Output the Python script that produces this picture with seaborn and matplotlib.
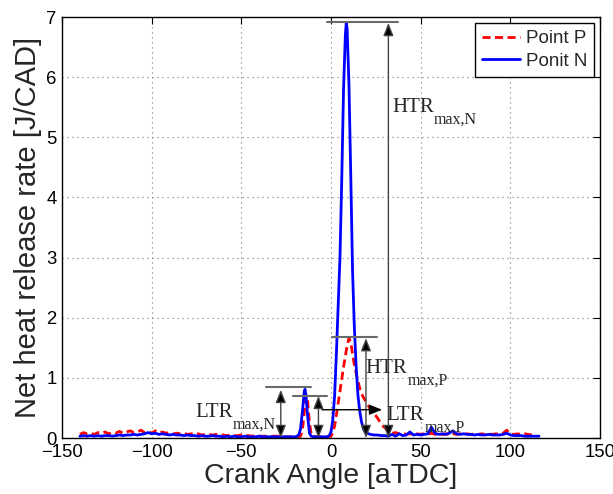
import matplotlib
matplotlib.use("Agg")
import matplotlib.pyplot as plt
import seaborn as sns
import pandas as pd

# ---------------- data ----------------
crank_N = [-140, -138, -136, -134, -132, -130, -128, -126, -124, -122, -120, -118, -116, -114, -112,
           -110, -108, -106, -104, -102, -100, -98, -96, -94, -92, -90, -88, -86, -84, -82, -80,
           -78, -76, -74, -72, -70, -68, -66, -64, -62, -60, -58, -56, -54, -52, -50, -48, -46,
           -44, -42, -40, -38, -36, -34, -32, -30, -28, -26, -24, -22, -20,
           -19, -18, -17, -16, -15, -14.5, -14, -13, -12, -11, -10, -8, -6, -4, -2,
           -1, 0, 1, 2, 3, 4, 5, 6, 7, 8, 8.5, 9, 10, 11, 12, 13, 14, 15, 16, 17, 18, 19, 20,
           22, 24, 26, 28, 30, 32, 34, 36, 38, 40, 42, 44, 46, 48, 50, 52, 54, 56, 58, 60,
           62, 64, 66, 68, 70, 72, 74, 76, 78, 80, 82, 84, 86, 88, 90, 92, 94, 96, 98, 100,
           102, 104, 106, 108, 110, 112, 114, 116]
hrr_N = [0.03, 0.04, 0.03, 0.04, 0.03, 0.04, 0.03, 0.04, 0.04, 0.03, 0.04, 0.05, 0.04, 0.05, 0.05,
         0.06, 0.05, 0.06, 0.07, 0.09, 0.07, 0.08, 0.06, 0.07, 0.06, 0.05, 0.06, 0.05, 0.05, 0.04, 0.05,
         0.04, 0.04, 0.03, 0.04, 0.03, 0.03, 0.04, 0.03, 0.03, 0.02, 0.03, 0.02, 0.03, 0.02, 0.02, 0.03, 0.02,
         0.02, 0.02, 0.03, 0.02, 0.02, 0.02, 0.02, 0.02, 0.02, 0.02, 0.02, 0.02, 0.02,
         0.03, 0.05, 0.15, 0.42, 0.75, 0.81, 0.72, 0.35, 0.08, 0.03, 0.02, 0.02, 0.02, 0.02, 0.02,
         0.04, 0.10, 0.30, 0.70, 1.40, 2.20, 3.00, 4.30, 5.80, 6.70, 6.90, 6.80, 5.90, 4.40, 2.80, 1.85,
         1.20, 0.72, 0.45, 0.27, 0.16, 0.10, 0.08,
         0.06, 0.05, 0.05, 0.04, 0.04, 0.03, 0.06, 0.03, 0.07, 0.04, 0.05, 0.10, 0.05, 0.06, 0.05, 0.06,
         0.07, 0.18, 0.08, 0.06, 0.07, 0.06, 0.08, 0.12, 0.07, 0.06, 0.07, 0.06, 0.06, 0.05, 0.06, 0.05,
         0.05, 0.06, 0.05, 0.05, 0.05, 0.06, 0.08, 0.05, 0.04, 0.04, 0.04, 0.03, 0.03, 0.03, 0.03, 0.03]

crank_P = [-140, -138, -136, -134, -132, -130, -128, -126, -124, -122, -120, -118, -116, -114, -112,
           -110, -108, -106, -104, -102, -100, -98, -96, -94, -92, -90, -88, -86, -84, -82, -80,
           -78, -76, -74, -72, -70, -68, -66, -64, -62, -60, -58, -56, -54, -52, -50, -48, -46,
           -44, -42, -40, -38, -36, -34, -32, -30, -28, -26, -24, -22, -20,
           -18, -17, -16, -15, -14, -13.5, -13, -12, -11, -10, -8, -6, -4, -2,
           0, 1, 2, 3, 4, 5, 6, 7, 8, 9, 10, 11, 12, 13, 14, 15, 16, 17, 18, 19, 20,
           21, 22, 23, 24, 25, 26, 27, 28, 29, 30, 31, 32, 33,
           34, 36, 38, 40, 42, 44, 46, 48, 50, 52, 54, 56, 58, 60, 62, 64, 66, 68, 70,
           72, 74, 76, 78, 80, 82, 84, 86, 88, 90, 92, 94, 96, 98, 100, 102, 104, 106, 108, 110, 112]
hrr_P = [0.06, 0.09, 0.07, 0.08, 0.06, 0.09, 0.08, 0.10, 0.07, 0.09, 0.08, 0.11, 0.08, 0.10, 0.12,
         0.09, 0.10, 0.13, 0.09, 0.11, 0.08, 0.12, 0.09, 0.10, 0.08, 0.09, 0.07, 0.08, 0.07, 0.08, 0.06,
         0.07, 0.06, 0.07, 0.05, 0.06, 0.06, 0.05, 0.06, 0.05, 0.05, 0.04, 0.05, 0.04, 0.04, 0.05, 0.04, 0.04,
         0.03, 0.04, 0.03, 0.03, 0.03, 0.03, 0.03, 0.03, 0.03, 0.02, 0.02, 0.02, 0.02,
         0.02, 0.03, 0.12, 0.40, 0.68, 0.70, 0.60, 0.25, 0.06, 0.03, 0.02, 0.02, 0.02, 0.02,
         0.03, 0.08, 0.20, 0.38, 0.58, 0.78, 0.98, 1.18, 1.36, 1.54, 1.66, 1.60, 1.40, 1.22, 1.08, 0.95,
         0.83, 0.74, 0.68, 0.63, 0.58,
         0.53, 0.47, 0.43, 0.40, 0.37, 0.33, 0.28, 0.24, 0.20, 0.17, 0.14, 0.11, 0.09,
         0.08, 0.09, 0.07, 0.08, 0.06, 0.07, 0.06, 0.07, 0.06, 0.07, 0.06, 0.08, 0.06, 0.07, 0.06, 0.07,
         0.06, 0.07, 0.06, 0.07, 0.06, 0.07, 0.06, 0.07, 0.06, 0.07, 0.06, 0.07, 0.06, 0.07, 0.06, 0.08,
         0.13, 0.07, 0.06, 0.07, 0.06, 0.07, 0.06, 0.05]

series_names = ["Point P", "Ponit N"]
x_ticks = [-150, -100, -50, 0, 50, 100, 150]
y_ticks = [0, 1, 2, 3, 4, 5, 6, 7]

# annotation geometry (x, y_bottom, y_top) for double arrows
double_arrows = [(-28, 0.0, 0.80), (-7, 0.0, 0.70), (19.5, 0.0, 1.66), (32, 0.0, 6.90)]
cap_lines = [(-36, -11, 0.85), (-21, -2, 0.70), (0.6, 25.7, 1.68), (-2, 37.5, 6.92)]
labels = [(34.0, 5.42, "HTR", "max,N"), (19.0, 1.08, "HTR", "max,P"),
          (-75.8, 0.35, "LTR", "max,N"), (31.1, 0.30, "LTR", "max,P")]

# ---------------- plot ----------------
sns.set_style("whitegrid")
plt.rcParams["font.family"] = ["Liberation Sans", "DejaVu Sans"]

fig = plt.figure(figsize=(6.13, 4.94), dpi=100)
ax = fig.add_axes([62 / 613, 56 / 494, 538 / 613, 421 / 494])

dfP = pd.DataFrame({"x": crank_P, "y": hrr_P})
dfN = pd.DataFrame({"x": crank_N, "y": hrr_N})
sns.lineplot(data=dfP, x="x", y="y", ax=ax, color="#ff0000", lw=2.0, label=series_names[0],
             linestyle=(0, (2.9, 1.6)), estimator=None, sort=False)
sns.lineplot(data=dfN, x="x", y="y", ax=ax, color="#0000ff", lw=2.0, label=series_names[1],
             estimator=None, sort=False)

ax.set_xlim(-150, 150)
ax.set_ylim(0, 7)
ax.set_xticks(x_ticks)
ax.set_yticks(y_ticks)
ax.grid(True, linestyle=(0, (1, 3.5)), color="#777777", lw=0.8)
for s in ax.spines.values():
    s.set_color("black")
    s.set_linewidth(1.0)
ax.tick_params(direction="in", top=True, right=True, length=5, width=0.8,
               labelsize=13.3, colors="black", pad=4)
ax.set_xlabel("Crank Angle [aTDC]", fontsize=20.5, labelpad=2)
ax.set_ylabel("Net heat release rate [J/CAD]", fontsize=21, labelpad=3)

# cap lines
for x0, x1, y in cap_lines:
    ax.plot([x0, x1], [y, y], color="#6a6a6a", lw=1.5, zorder=4)
# double arrows
for x, y0, y1 in double_arrows:
    ax.annotate("", xy=(x, y1), xytext=(x, y0),
                arrowprops=dict(arrowstyle="<|-|>,head_length=0.55,head_width=0.22",
                                mutation_scale=14, fc="black", ec="#444444", lw=1.0,
                                shrinkA=0, shrinkB=0), zorder=5)
# horizontal arrow for LTR_max,P
ax.annotate("", xy=(28.5, 0.47), xytext=(-5, 0.47),
            arrowprops=dict(arrowstyle="-|>,head_length=0.55,head_width=0.22",
                            mutation_scale=14, fc="black", ec="black", lw=1.0,
                            shrinkA=0, shrinkB=0), zorder=5)

for x, y, main, sub in labels:
    t = ax.text(x, y, main, fontsize=15, family="Liberation Serif", va="baseline", ha="left", zorder=6)
    ax.annotate(sub, xy=(1, 0), xycoords=t, xytext=(0.3, -4.5), textcoords="offset points",
                fontsize=11.5, family="Liberation Serif", va="baseline", ha="left", zorder=6)

leg = ax.legend(loc="upper right", fontsize=13.5, frameon=True, fancybox=False,
                edgecolor="black", framealpha=1, borderpad=0.4, labelspacing=0.3,
                handlelength=2.0, handletextpad=0.3, borderaxespad=0.3)
leg.get_frame().set_linewidth(1.0)

fig.savefig("out.png", dpi=100)
